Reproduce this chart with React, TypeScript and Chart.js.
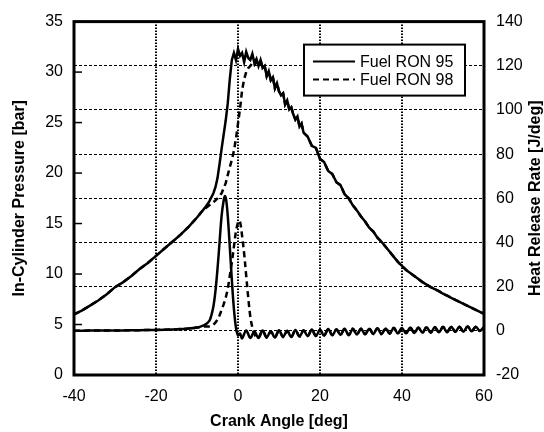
import { useEffect, useRef } from "react";
import { Chart, registerables } from "chart.js";

Chart.register(...registerables);

const FONT = "'Liberation Sans', Arial, Helvetica, sans-serif";

// Compression stroke, identical for both fuels
const compressionAngles = [-40, -38, -36, -34, -32, -30, -28, -26, -24, -22, -20, -18, -16, -14, -12, -10];
const compressionPressure = [6.0, 6.4, 6.9, 7.4, 8.0, 8.7, 9.2, 9.8, 10.5, 11.1, 11.8, 12.5, 13.2, 13.9, 14.7, 15.6];

// Combustion phase, RON 95
const ron95Angles = [-9, -8, -7, -6, -5.5, -5, -4.5, -4, -3.5, -3, -2.5, -2, -1.5, -1, -0.5, 0, 0.5, 1, 1.5, 2, 2.5, 3, 3.5, 4, 4.5, 5];
const ron95Pressure = [16.1, 16.6, 17.2, 18.0, 18.6, 19.5, 20.9, 22.4, 23.8, 25.2, 26.9, 29.3, 31.2, 31.9, 31.2, 32.3, 31.6, 31.9, 31.0, 32.0, 31.4, 31.2, 31.8, 30.9, 31.3, 30.6];

// Combustion phase, RON 98
const ron98Angles = [-9, -8, -7, -6, -5, -4, -3, -2.5, -2, -1.5, -1, -0.5, 0, 0.5, 1, 1.5, 2, 2.5, 3, 3.5, 4, 4.5, 5];
const ron98Pressure = [16.1, 16.5, 16.8, 17.1, 17.5, 18.0, 19.0, 19.8, 20.6, 21.3, 22.2, 23.4, 24.9, 26.4, 28.2, 29.3, 30.0, 30.4, 30.6, 30.9, 30.7, 31.0, 30.9];

// Expansion stroke, identical for both fuels
const expansionAngles = [
  5.5, 6, 6.5, 7, 7.5, 8, 8.5, 9, 9.5, 10, 10.5, 11, 11.5, 12, 12.5, 13, 13.5, 14, 14.5, 15, 15.5, 16,
  17, 18, 19, 20, 21, 22, 23, 24, 25, 26, 27, 28, 29, 30, 31, 32, 33, 34, 35, 36, 37, 38, 39, 40,
  41, 42, 43, 44, 45, 46, 47, 48, 49, 50, 51, 52, 53, 54, 55, 56, 57, 58, 59, 60,
];
const expansionPressure = [
  31.2, 30.4, 30.6, 29.6, 30.1, 29.2, 29.5, 28.4, 28.9, 28.1, 27.7, 27.9, 26.8, 27.2, 26.3, 26.5, 25.8, 25.3, 25.6, 24.6, 24.9, 24.0,
  23.6, 22.7, 22.5, 21.4, 21.1, 20.2, 19.9, 19.1, 18.8, 17.9, 17.5, 16.8, 16.3, 15.7, 15.2, 14.6, 14.2, 13.6, 13.2, 12.7, 12.2, 11.7, 11.2, 10.8,
  10.4, 10.1, 9.8, 9.5, 9.2, 8.95, 8.7, 8.5, 8.3, 8.05, 7.85, 7.65, 7.45, 7.25, 7.05, 6.85, 6.65, 6.45, 6.25, 6.05,
];

// Heat release rate, RON 95
const hrr95Angles = [
  -40, -36, -32, -28, -24, -20, -16, -14, -12, -10, -9, -8, -7, -6.5, -6, -5.5, -5, -4.5, -4, -3.5, -3.2, -2.9, -2.5, -2, -1.5, -1, -0.5, 0, 0.5,
  1, 2, 3, 4, 5, 6, 7, 8, 9, 10, 11, 12, 13, 14, 15, 16, 17, 18, 19, 20, 21, 22, 23, 24, 25, 26, 27, 28, 29, 30,
  31, 32, 33, 34, 35, 36, 37, 38, 39, 40, 41, 42, 43, 44, 45, 46, 47, 48, 49, 50, 51, 52, 53, 54, 55, 56, 57, 58, 59, 60,
];
const hrr95 = [
  0.0, 0.1, 0.1, 0.2, 0.3, 0.4, 0.6, 0.8, 1.0, 1.5, 2.0, 2.8, 4.5, 7, 11, 18, 28, 40, 52, 59, 61, 59.5, 52, 38, 23, 10, 1.5, -2, -1.2,
  -3.4, 0.2, -3.2, -0.3, -3.3, 0.1, -2.9, -0.2, -3.0, 0.3, -2.7, 0.0, -2.8, 0.4, -2.5, 0.2, -2.4, 0.6, -2.3, 0.4, -2.2, 0.8, -2.0, 0.6, -1.9, 0.9, -2.0, 0.8, -1.7, 1.0,
  -1.6, 0.9, -1.5, 1.2, -1.5, 1.1, -1.3, 1.3, -1.2, 1.2, -1.1, 1.5, -1.0, 1.4, -0.9, 1.6, -0.9, 1.7, -0.7, 1.7, -0.6, 1.9, -0.5, 1.8, -0.4, 2.0, -0.2, 1.9, -0.1, 1.8,
];

// Heat release rate, RON 98
const hrr98Angles = [
  -40, -36, -32, -28, -24, -20, -16, -14, -12, -10, -9, -8, -7, -6, -5, -4.5, -4, -3.5, -3, -2.5, -2, -1.5, -1, -0.5, 0, 0.3, 0.6, 1, 1.5, 2, 2.5, 3, 3.5, 4, 4.5,
  5, 6, 7, 8, 9, 10, 11, 12, 13, 14, 15, 16, 17, 18, 19, 20, 21, 22, 23, 24, 25, 26, 27, 28, 29, 30,
  31, 32, 33, 34, 35, 36, 37, 38, 39, 40, 41, 42, 43, 44, 45, 46, 47, 48, 49, 50, 51, 52, 53, 54, 55, 56, 57, 58, 59, 60,
];
const hrr98 = [
  0.0, 0.1, 0.1, 0.2, 0.3, 0.4, 0.6, 0.8, 1.0, 1.5, 1.8, 2.0, 2.0, 2.8, 5, 7, 9.5, 12, 15, 19, 25, 31, 38, 45, 49, 50, 48.5, 43, 35, 25, 15, 6.5, 1.5, -1.5, -3.0,
  -3.0, 0.0, -3.1, -0.4, -2.8, 0.1, -2.9, -0.1, -2.6, 0.2, -2.6, 0.3, -2.3, 0.5, -2.3, 0.5, -2.1, 0.7, -1.9, 0.7, -1.8, 0.9, -1.8, 1.0, -1.6, 0.9,
  -1.5, 1.1, -1.4, 1.2, -1.4, 1.2, -1.2, 1.4, -1.1, 1.3, -1.0, 1.5, -0.9, 1.5, -0.8, 1.7, -0.8, 1.6, -0.6, 1.8, -0.5, 1.8, -0.4, 1.9, -0.3, 2.0, -0.1, 1.9, 0.0, 1.8,
];

const xTicks = [-40, -20, 0, 20, 40, 60];
const pressureTicks = [0, 5, 10, 15, 20, 25, 30, 35];
const hrrTicks = [-20, 0, 20, 40, 60, 80, 100, 120, 140];

const fuelLabels = ["Fuel RON 95", "Fuel RON 98"];
const xTitle = "Crank Angle [deg]";
const pressureTitle = "In-Cylinder Pressure [bar]";
const hrrTitle = "Heat Release Rate [J/deg]";

const toPoints = (xs: number[], ys: number[]) => xs.map((x, i) => ({ x, y: ys[i] }));

const SOLID: number[] = [];
const DASHED = [6, 4];

// Frame, inward pressure ticks, right-hand title and the boxed legend
const decorations = {
  id: "decorations",
  afterDatasetsDraw(chart: any) {
    const { ctx, chartArea: a, scales } = chart;
    ctx.save();
    ctx.strokeStyle = "#000";
    ctx.setLineDash([]);

    ctx.lineWidth = 1.5;
    for (const v of pressureTicks) {
      const py = scales.y.getPixelForValue(v);
      ctx.beginPath();
      ctx.moveTo(a.left, py);
      ctx.lineTo(a.left + 8, py);
      ctx.stroke();
    }

    ctx.lineWidth = 3;
    ctx.strokeRect(a.left, a.top, a.right - a.left, a.bottom - a.top);

    // right axis title, reading bottom to top
    ctx.save();
    ctx.translate(536, (a.top + a.bottom) / 2);
    ctx.rotate(-Math.PI / 2);
    ctx.font = `bold 16px ${FONT}`;
    ctx.fillStyle = "#000";
    ctx.textAlign = "center";
    ctx.textBaseline = "middle";
    ctx.fillText(hrrTitle, 0, 0);
    ctx.restore();

    // legend
    const bx = a.right - 180;
    const by = a.top + 23;
    const bw = 161;
    const bh = 51;
    ctx.fillStyle = "#fff";
    ctx.fillRect(bx, by, bw, bh);
    ctx.lineWidth = 2;
    ctx.strokeRect(bx, by, bw, bh);
    ctx.font = `16px ${FONT}`;
    ctx.fillStyle = "#000";
    ctx.textAlign = "left";
    ctx.textBaseline = "middle";
    fuelLabels.forEach((label, i) => {
      const ly = by + 17 + i * 18;
      ctx.setLineDash(i === 0 ? SOLID : DASHED);
      ctx.beginPath();
      ctx.moveTo(bx + 9, ly);
      ctx.lineTo(bx + 51, ly);
      ctx.stroke();
      ctx.setLineDash([]);
      ctx.fillText(label, bx + 56, ly + 0.5);
    });
    ctx.restore();
  },
};

export default function App() {
  const canvasRef = useRef<HTMLCanvasElement | null>(null);

  useEffect(() => {
    if (!canvasRef.current) return;
    const line = (data: any[], dash: number[], axis: string, tension: number, label: string) => ({
      label,
      data,
      yAxisID: axis,
      borderColor: "#000",
      borderWidth: 2.5,
      borderDash: dash,
      pointRadius: 0,
      fill: false,
      tension,
    });

    const chart = new Chart(canvasRef.current, {
      type: "line",
      data: {
        datasets: [
          line(
            toPoints([...compressionAngles, ...ron95Angles, ...expansionAngles], [...compressionPressure, ...ron95Pressure, ...expansionPressure]),
            SOLID, "y", 0, fuelLabels[0]
          ),
          line(
            toPoints([...compressionAngles, ...ron98Angles, ...expansionAngles], [...compressionPressure, ...ron98Pressure, ...expansionPressure]),
            DASHED, "y", 0, fuelLabels[1]
          ),
          line(toPoints(hrr95Angles, hrr95), SOLID, "y1", 0.35, fuelLabels[0]),
          line(toPoints(hrr98Angles, hrr98), DASHED, "y1", 0.35, fuelLabels[1]),
        ],
      },
      options: {
        responsive: false,
        animation: false,
        layout: { padding: { top: 19, left: 0, right: 0, bottom: 0 } },
        plugins: { legend: { display: false }, tooltip: { enabled: false } },
        scales: {
          x: {
            type: "linear",
            min: -40,
            max: 60,
            afterFit: (s: any) => { s.height = 57; },
            afterBuildTicks: (s: any) => { s.ticks = xTicks.map((value) => ({ value })); },
            ticks: { color: "#000", padding: 12, font: { family: FONT, size: 16 } },
            grid: { color: "#000", lineWidth: 2, drawTicks: false },
            border: { display: false, dash: [1.5, 1.5] },
            title: {
              display: true,
              text: xTitle,
              color: "#000",
              font: { family: FONT, size: 16, weight: "bold", lineHeight: 1 },
              padding: { top: 0, bottom: 2 },
            },
          },
          y: {
            type: "linear",
            position: "left",
            min: 0,
            max: 35,
            afterFit: (s: any) => { s.width = 74; },
            afterBuildTicks: (s: any) => { s.ticks = pressureTicks.map((value) => ({ value })); },
            ticks: { color: "#000", padding: 11, font: { family: FONT, size: 16 } },
            grid: { display: false, drawTicks: false },
            border: { display: false },
            title: {
              display: true,
              text: pressureTitle,
              color: "#000",
              font: { family: FONT, size: 16, weight: "bold", lineHeight: 1 },
              padding: { top: 12, bottom: 0 },
            },
          },
          y1: {
            type: "linear",
            position: "right",
            min: -20,
            max: 140,
            afterFit: (s: any) => { s.width = 60; },
            afterBuildTicks: (s: any) => { s.ticks = hrrTicks.map((value) => ({ value })); },
            ticks: { color: "#000", padding: 12, font: { family: FONT, size: 16 } },
            grid: { color: "#000", lineWidth: 1, drawTicks: false },
            border: { display: false, dash: [3, 2] },
            title: { display: false },
          },
        },
      },
      plugins: [decorations],
    } as any);

    return () => chart.destroy();
  }, []);

  return (
    <div style={{ position: "absolute", left: 0, top: 0, width: 544, height: 432, background: "#fff" }}>
      <canvas ref={canvasRef} width={544} height={432} style={{ display: "block" }} />
    </div>
  );
}
